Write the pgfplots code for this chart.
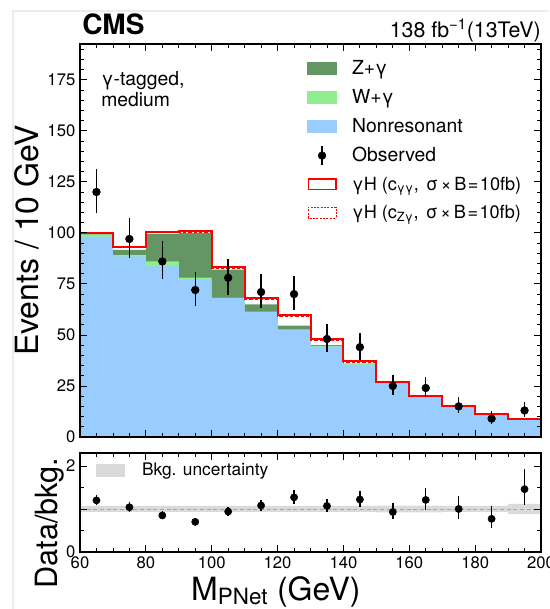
\documentclass[border=0pt]{standalone}
\usepackage{pgfplots}
\pgfplotsset{compat=1.18}
\usepackage{pgfplotstable}
\usepgfplotslibrary{fillbetween}
\usepackage{fontspec}
\setmainfont{TeX Gyre Heros}

\definecolor{zgcol}{RGB}{99,150,99}
\definecolor{wgcol}{RGB}{144,238,144}
\definecolor{nrcol}{RGB}{153,204,255}
\definecolor{sigred}{RGB}{255,0,0}
\definecolor{bandgrey}{RGB}{218,218,218}
\definecolor{framegrey}{RGB}{236,236,236}

\newlength\px
\setlength\px{0.75pt}

% background components per 10 GeV bin (left edge), last row closes the final bin
\pgfplotstableread{
x    nonres  wg    zg    sgg   szg
60   98.2    1.0   0.3   0.6   0.4
70   88.5    0.6   2.6   1.5   1.0
80   83.6    2.4   13.5  0.8   0.5
90   76.8    1.3   21.7  0.9   0.6
100  68.2    0.0   13.8  1.1   0.5
110  61.2    0.2   3.5   3.3   2.7
120  52.4    0.3   1.8   5.1   4.3
130  44.3    0.3   0.4   2.9   2.2
140  35.4    0.3   0.3   1.0   0.7
150  26.4    0.1   0.1   0.2   0.1
160  19.7    0.1   0.0   0.2   0.1
170  14.8    0.1   0.0   0.2   0.1
180  11.3    0.1   0.0   0.1   0.1
190  8.7     0.1   0.0   0.1   0.05
200  8.7     0.1   0.0   0.1   0.05
}\bkg

% observed events with Poisson intervals
\pgfplotstableread{
x    y     ep     em
65   120   11.47  10.47
75   97    10.36  9.36
85   86    9.79   8.79
95   72    9.00   8.00
105  78    9.35   8.35
115  71    8.94   7.94
125  70    8.88   7.88
135  48    7.45   6.45
145  44    7.15   6.15
155  25    5.53   4.53
165  24    5.42   4.42
175  15    4.41   3.41
185  9     3.54   2.54
195  13    4.14   3.14
}\obs

% data / background
\pgfplotstableread{
x    r     ep     em
65   1.20  0.115  0.105
75   1.04  0.113  0.102
85   0.85  0.098  0.088
95   0.70  0.090  0.080
105  0.94  0.114  0.102
115  1.08  0.138  0.122
125  1.27  0.163  0.144
135  1.07  0.165  0.143
145  1.22  0.197  0.169
155  0.93  0.206  0.169
165  1.21  0.274  0.223
175  1.00  0.296  0.229
185  0.77  0.305  0.219
195  1.46  0.470  0.357
}\ratio

% background uncertainty band
\pgfplotstableread{
x    lo    hi
60   0.93  1.07
70   0.93  1.07
80   0.93  1.07
90   0.93  1.07
100  0.93  1.07
110  0.93  1.07
120  0.93  1.07
130  0.93  1.07
140  0.93  1.07
150  0.92  1.08
160  0.92  1.08
170  0.93  1.07
180  0.93  1.07
190  0.88  1.12
200  0.88  1.12
}\band

\pgfplotsset{
  cmsaxis/.style={
    scale only axis, width=461\px,
    xmin=60, xmax=200,
    axis on top,
    tick align=inside,
    major tick length=7\px, minor tick length=3.75\px,
    xtick distance=20, minor x tick num=3,
    axis line style={line width=0.9pt},
    every tick/.style={black, line width=0.6pt},
    tick label style={font=\fontsize{12.5}{14}\selectfont},
    /pgf/number format/assume math mode=true,
  },
}

\newcommand\sigtext[1]{γH (c\textsubscript{#1},\hspace{0.4em}σ\hspace{0.16em}×\hspace{0.16em}B\hspace{0.08em}=\hspace{0.08em}10fb)}

\begin{document}
\begin{tikzpicture}

% faint outer frame lines
\draw[framegrey, line width=0.8pt] (-50.25pt,-129pt) -- (-50.25pt,319.5pt) -- (351.75pt,319.5pt);

\begin{axis}[cmsaxis,
  name=main, at={(0,0)}, anchor=south west,
  height=393\px,
  ymin=0, ymax=192.5,
  ytick distance=25, minor y tick num=4,
  xticklabel=\empty,
  ylabel={Events / 10 GeV},
  ylabel style={font=\fontsize{24}{28}\selectfont, at={(axis description cs:-0.0911,0.5)}, anchor=base},
  legend style={draw=none, fill=none, at={(axis description cs:0.4924,0.966)}, anchor=north west,
    font=\fontsize{14.5}{17}\selectfont, row sep=5.7pt, inner sep=0pt,
    /tikz/every odd column/.append style={column sep=9.5pt}},
  legend cell align=left,
]
% stacked backgrounds
\addplot[const plot mark left, fill=zgcol, draw=none, forget plot]
  table[x=x, y expr=\thisrow{nonres}+\thisrow{wg}+\thisrow{zg}] {\bkg} \closedcycle;
\addplot[const plot mark left, fill=wgcol, draw=none, forget plot]
  table[x=x, y expr=\thisrow{nonres}+\thisrow{wg}] {\bkg} \closedcycle;
\addplot[const plot mark left, fill=nrcol, draw=none, forget plot]
  table[x=x, y=nonres] {\bkg} \closedcycle;
% signal hypotheses stacked on the background
\addplot[const plot mark left, sigred, line width=0.8pt, dash pattern=on 2.5pt off 1.5pt, forget plot]
  table[x=x, y expr=\thisrow{nonres}+\thisrow{wg}+\thisrow{zg}+\thisrow{szg}] {\bkg};
\addplot[const plot mark left, sigred, line width=1.5pt, forget plot]
  table[x=x, y expr=\thisrow{nonres}+\thisrow{wg}+\thisrow{zg}+\thisrow{sgg}] {\bkg};
% observed
\addplot[only marks, mark=*, mark size=2.9pt, black, forget plot,
  error bars/.cd, y dir=both, y explicit, error mark=none,
  error bar style={line width=1.1pt}]
  table[x=x, y=y, y error plus=ep, y error minus=em] {\obs};

\addlegendimage{legend image code/.code={\fill[zgcol] (0pt,-4.5pt) rectangle (21.75pt,4.5pt);}}
\addlegendentry{Z+γ}
\addlegendimage{legend image code/.code={\fill[wgcol] (0pt,-4.5pt) rectangle (21.75pt,4.5pt);}}
\addlegendentry{W+γ}
\addlegendimage{legend image code/.code={\fill[nrcol] (0pt,-4.5pt) rectangle (21.75pt,4.5pt);}}
\addlegendentry{Nonresonant}
\addlegendimage{legend image code/.code={\draw[line width=1.1pt] (10.9pt,-7pt) -- (10.9pt,7pt); \fill (10.9pt,0pt) circle (2.9pt);}}
\addlegendentry{Observed}
\addlegendimage{legend image code/.code={\draw[sigred, line width=0.9pt] (0.45pt,-4pt) rectangle (21.3pt,4pt);}}
\addlegendentry{\fontsize{13.6}{17}\selectfont\sigtext{γγ}}
\addlegendimage{legend image code/.code={\draw[sigred, line width=0.6pt, dash pattern=on 1.5pt off 1pt] (0.45pt,-4pt) rectangle (21.3pt,4pt);}}
\addlegendentry{\fontsize{13.6}{17}\selectfont\sigtext{Zγ}}

\node[anchor=north west, align=left, inner sep=0pt, font=\fontsize{14.5}{15.75}\selectfont]
  at (axis description cs:0.0456,1) [yshift=-20.5pt] {γ-tagged,\\medium};
\end{axis}

% header
\node[anchor=base west, inner sep=0pt, font=\fontsize{21}{25}\selectfont\bfseries] at (2\px,294.75pt+9\px) {CMS};
\node[anchor=base east, inner sep=0pt, font=\fontsize{16}{19}\selectfont] at (461\px,294.75pt+6\px) {138 fb\textsuperscript{−1}(13TeV)};

\begin{axis}[cmsaxis,
  name=ratio, at={(0,-16\px)}, anchor=north west,
  height=99\px,
  ymin=0, ymax=2.3,
  ytick={0,1,2}, yticklabels={0,,2}, minor ytick={0.5,1.5},
  xlabel={M\textsubscript{PNet} (GeV)},
  xlabel style={font=\fontsize{24}{29}\selectfont, at={(axis description cs:0.425,0)}, anchor=base, yshift=-36pt},
  ylabel={Data/bkg.},
  ylabel style={font=\fontsize{23}{27}\selectfont, at={(axis description cs:-0.048,1)}, anchor=base east},
  legend style={draw=none, fill=none, at={(axis description cs:0.0347,0.822)}, anchor=west,
    font=\fontsize{13}{16}\selectfont, inner sep=0pt,
    /tikz/every odd column/.append style={column sep=11pt}},
  legend cell align=left,
]
\addplot[name path=lo, draw=none, const plot mark left, forget plot] table[x=x, y=lo] {\band};
\addplot[name path=hi, draw=none, const plot mark left, forget plot] table[x=x, y=hi] {\band};
\addplot[bandgrey, forget plot] fill between[of=hi and lo];
\addplot[gray!70, line width=0.6pt, dash pattern=on 3pt off 2pt, forget plot] coordinates {(60,1) (200,1)};
\addplot[only marks, mark=*, mark size=2.7pt, black, forget plot,
  error bars/.cd, y dir=both, y explicit, error mark=none,
  error bar style={line width=1.1pt}]
  table[x=x, y=r, y error plus=ep, y error minus=em] {\ratio};

\addlegendimage{legend image code/.code={\fill[bandgrey] (0pt,-4.5pt) rectangle (21pt,4.5pt);}}
\addlegendentry{Bkg. uncertainty}
\end{axis}

\pgfresetboundingbox
\useasboundingbox (-60pt,-129pt) rectangle (351.75pt,327.75pt);
\end{tikzpicture}
\end{document}
